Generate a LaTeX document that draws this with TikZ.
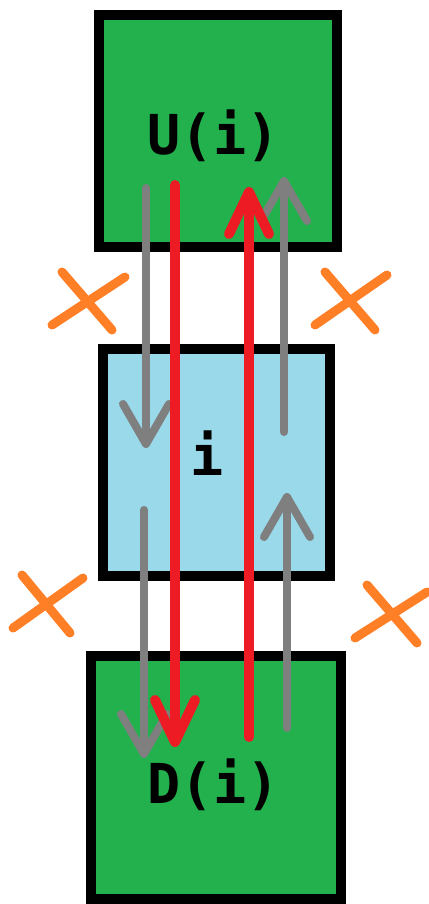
\documentclass[tikz,border=0pt]{standalone}
\usepackage{fontspec}
\setmonofont{DejaVu Sans Mono}
\usetikzlibrary{arrows.meta}

\definecolor{paintgreen}{HTML}{22B14C}
\definecolor{paintblue}{HTML}{99D9EA}
\definecolor{paintred}{HTML}{ED1C24}
\definecolor{paintgray}{HTML}{7F7F7F}
\definecolor{paintorange}{HTML}{FF7F27}

\begin{document}
\begin{tikzpicture}[x=1pt, y=-1pt, font=\ttfamily\bfseries\fontsize{55}{60}\selectfont]
    % Styles
    \tikzstyle{block}=[rectangle,draw=black,line width=10pt,inner sep=0pt]
    \tikzstyle{tag}=[inner sep=0pt,anchor=base]
    \tikzstyle{gray path}=[paintgray,line width=8pt,line cap=round,-{Straight Barb[length=40pt,width=46pt,round]}]
    \tikzstyle{red path}=[paintred,line width=10pt,line cap=round,-{Straight Barb[length=42pt,width=40pt,round]}]
    \tikzstyle{blocked}=[paintorange,line width=9pt,line cap=round]

    \useasboundingbox (0,0) rectangle (428,904);

    % --- Boxes ---
    \node[block, fill=paintgreen, minimum width=238pt, minimum height=232pt] (up) at (218,131) {};
    \node[block, fill=paintblue, minimum width=227pt, minimum height=227pt] (mid) at (216.5,462.5) {};
    \node[block, fill=paintgreen, minimum width=250pt, minimum height=243pt] (down) at (216,777.5) {};

    % Labels inside the boxes
    \node[tag] (up_label) at (213.5,155) {U(i)};
    \node[tag] (mid_label) at (207,475) {i};
    \node[tag] (down_label) at (213.5,803) {D(i)};

    % --- Arrow end points ---
    % Left side (going down)
    \coordinate (g1_start) at (146,188);
    \coordinate (g1_end) at (146,448);
    \coordinate (g2_start) at (144,510);
    \coordinate (g2_end) at (144,758);
    \coordinate (r1_start) at (175,185);
    \coordinate (r1_end) at (175,747);

    % Right side (going up)
    \coordinate (r2_start) at (249,737);
    \coordinate (r2_end) at (249,187);
    \coordinate (g3_start) at (287,728);
    \coordinate (g3_end) at (287,493);
    \coordinate (g4_start) at (284,432);
    \coordinate (g4_end) at (284,177);

    % Gray arrows (one step at a time)
    \draw[gray path] (g1_start) -- (g1_end);
    \draw[gray path] (g2_start) -- (g2_end);
    \draw[gray path] (g3_start) -- (g3_end);
    \draw[gray path] (g4_start) -- (g4_end);

    % Red arrows (straight through)
    \draw[red path] (r1_start) -- (r1_end);
    \draw[red path] (r2_start) -- (r2_end);

    % --- Crosses ---
    % Top left
    \draw[blocked] (62,272) -- (112,330);
    \draw[blocked] (52,325) -- (125,277);
    % Top right
    \draw[blocked] (325,272) -- (375,330);
    \draw[blocked] (315,325) -- (387,275);
    % Bottom left
    \draw[blocked] (22,575) -- (70,633);
    \draw[blocked] (13,628) -- (83,578);
    % Bottom right
    \draw[blocked] (367,585) -- (417,643);
    \draw[blocked] (355,638) -- (427,592);

\end{tikzpicture}
\end{document}
